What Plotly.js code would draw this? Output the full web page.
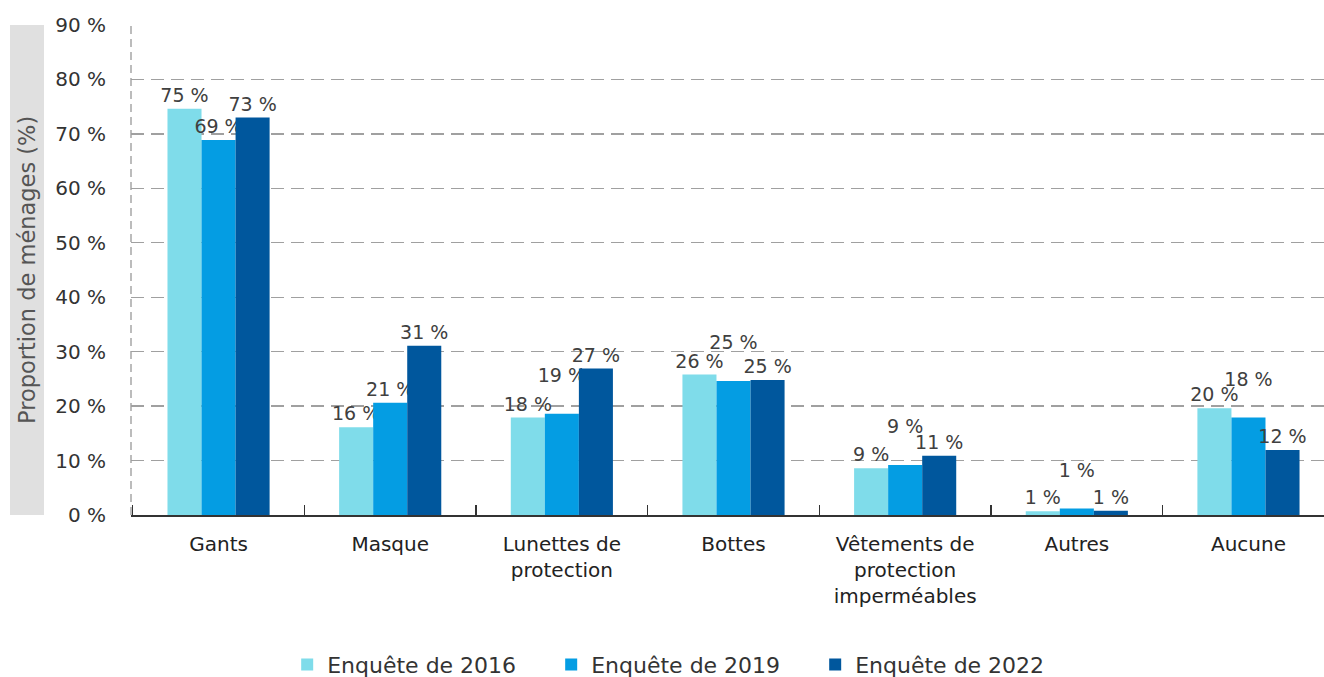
<!DOCTYPE html>
<html>
<head>
<meta charset="utf-8">
<script src="https://cdn.plot.ly/plotly-3.0.1.min.js"></script>
<style>html,body{margin:0;padding:0;background:#fff;}#chart{width:1324px;height:677px;}</style>
</head>
<body>
<div id="chart"></div>
<script>
const categories = ["Gants", "Masque", "Lunettes de<br>protection", "Bottes", "Vêtements de<br>protection<br>imperméables", "Autres", "Aucune"];
const seriesNames = ["Enquête de 2016", "Enquête de 2019", "Enquête de 2022"];
const values2016 = [74.6, 16.1, 17.9, 25.8, 8.6, 0.7, 19.6];
const values2019 = [68.9, 20.6, 18.6, 24.6, 9.2, 1.2, 17.9];
const values2022 = [73.0, 31.1, 26.9, 24.8, 10.9, 0.8, 11.95];
const yTicks = [0, 10, 20, 30, 40, 50, 60, 70, 80, 90];
const colors = ["#7fdcea", "#049de3", "#00579d"];

const font = "DejaVu Sans, Verdana, sans-serif";
const allSeries = [values2016, values2019, values2022];

// label placement: lift a label by one text line when that separates it better from its left neighbour
const W_H = 677, T = 25, B = 162, YMAX = 90;
const pxPerUnit = (W_H - T - B) / YMAX;
const labelSize = 19, lineH = 1.3 * labelSize, minGap = 18;
const blankLine = "<br><span style='color:rgba(0,0,0,0)'>0</span>";
const labels = allSeries.map(() => []);
categories.forEach((c, j) => {
  let prevPos = null;
  allSeries.forEach((vals, i) => {
    const base = vals[j] * pxPerUnit;
    let lift = 0;
    if (prevPos !== null) {
      const d0 = Math.abs(base - prevPos), d1 = Math.abs(base + lineH - prevPos);
      if (d0 < minGap && d1 > d0) lift = 1;
    }
    prevPos = base + lift * lineH;
    labels[i][j] = Math.round(vals[j]) + " %" + blankLine.repeat(lift);
  });
});

const traces = allSeries.map((vals, i) => ({
  type: "bar",
  name: seriesNames[i],
  x: categories,
  y: vals,
  text: labels[i],
  marker: {color: colors[i], line: {width: 0}},
  textposition: "outside",
  constraintext: "none",
  cliponaxis: false,
  textfont: {family: font, size: labelSize, color: "#404040"},
  hoverinfo: "skip"
}));

const L = 131, W = 1324 - L;
const layout = {
  width: 1324, height: W_H,
  margin: {l: L, r: 0, t: T, b: B},
  paper_bgcolor: "#fff", plot_bgcolor: "#fff",
  font: {family: font, color: "#333"},
  barmode: "group",
  bargap: 0.405,
  bargroupgap: 0,
  showlegend: true,
  legend: {
    orientation: "h", xref: "container", yref: "container",
    x: 0.516, xanchor: "center", y: 0.018, yanchor: "middle",
    font: {family: font, size: 22, color: "#333"},
    entrywidth: 219, traceorder: "normal"
  },
  xaxis: {
    type: "category",
    range: [-0.51, 6.44],
    tickson: "boundaries",
    ticks: "inside", ticklen: 10, tickwidth: 1.5, tickcolor: "#333",
    showline: true, linecolor: "#333", linewidth: 2,
    showgrid: false, zeroline: false,
    ticklabelstandoff: 10,
    tickfont: {family: font, size: 20, color: "#222"},
    fixedrange: true
  },
  yaxis: {
    range: [0, YMAX],
    tickvals: yTicks,
    ticktext: yTicks.map(v => v + " %"),
    showgrid: true, gridcolor: "#a0a0a0", gridwidth: 1.4, griddash: "13px,7px",
    zeroline: false, showline: false, ticks: "",
    ticklabelstandoff: 24,
    tickfont: {family: font, size: 20, color: "#333"},
    fixedrange: true
  },
  shapes: [
    {type: "rect", xref: "paper", yref: "paper",
     x0: (10 - L) / W, x1: (44 - L) / W, y0: 0, y1: 1,
     fillcolor: "#e0e0e0", line: {width: 0}, layer: "below"},
    {type: "line", xref: "paper", yref: "paper",
     x0: 0, x1: 0, y0: 0, y1: 1,
     line: {color: "#a0a0a0", width: 1.4, dash: "8px,5px"}}
  ],
  annotations: [
    {text: "Proportion de ménages (%)", xref: "paper", yref: "paper",
     x: (27 - L) / W, y: 0.5, textangle: -90, showarrow: false,
     xanchor: "center", yanchor: "middle",
     font: {family: font, size: 22.5, color: "#555"}}
  ]
};

Plotly.newPlot("chart", traces, layout, {displayModeBar: false, staticPlot: true});
</script>
</body>
</html>
